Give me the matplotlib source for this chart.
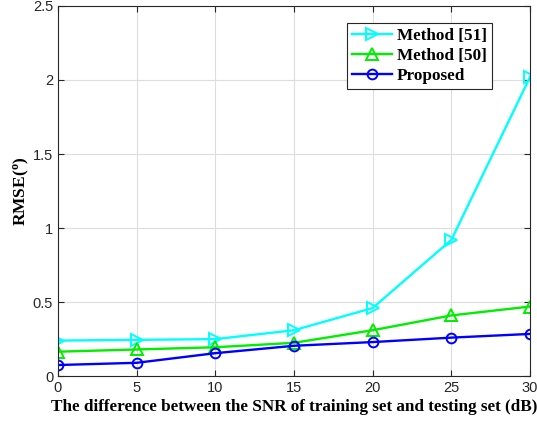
import matplotlib
matplotlib.use("Agg")
import matplotlib.pyplot as plt

# Données
snr_diff = [0, 5, 10, 15, 20, 25, 30]
rmse_m51 = [0.24, 0.245, 0.25, 0.31, 0.46, 0.92, 2.02]
rmse_m50 = [0.165, 0.18, 0.195, 0.225, 0.31, 0.41, 0.47]
rmse_prop = [0.075, 0.09, 0.155, 0.205, 0.23, 0.26, 0.285]

plt.rcParams['mathtext.fontset'] = 'custom'
plt.rcParams['mathtext.rm'] = 'Liberation Serif'
plt.rcParams['mathtext.bf'] = 'Liberation Serif:bold'

fig = plt.figure(figsize=(5.37, 4.25), dpi=100)
ax = fig.add_axes([0.108, 0.115, 0.879, 0.871])

ax.plot(snr_diff, rmse_m51, color="cyan", marker=">", markersize=8, mfc="none",
        mew=1.4, lw=1.7, label="Method [51]")
ax.plot(snr_diff, rmse_m50, color="#00ee00", marker="^", markersize=8, mfc="none",
        mew=1.4, lw=1.7, label="Method [50]")
ax.plot(snr_diff, rmse_prop, color="blue", marker="o", markersize=7, mfc="none",
        mew=1.4, lw=1.7, label="Proposed")

ax.set_xlim(0, 30)
ax.set_ylim(0, 2.5)
ax.set_xticks(snr_diff)
ax.set_yticks([0, 0.5, 1, 1.5, 2, 2.5])
ax.set_yticklabels(["0", "0.5", "1", "1.5", "2", "2.5"])
ax.grid(True, color="#dddddd", lw=0.8)
ax.set_axisbelow(True)
ax.tick_params(direction="in", length=4, top=True, right=True, labelsize=10.5,
               colors="#262626")
for lab in ax.get_xticklabels() + ax.get_yticklabels():
    lab.set_family("Liberation Sans")
for s in ax.spines.values():
    s.set_color("#262626")
    s.set_linewidth(0.8)

ax.set_xlabel("The difference between the SNR of training set and testing set (dB)",
              family="Liberation Serif", fontweight="bold", fontsize=12.3, labelpad=3)
ax.set_ylabel(r"RMSE($\mathbf{^{o}}$)", family="Liberation Serif",
              fontweight="bold", fontsize=12.5, labelpad=1)

leg = ax.legend(loc="upper right", bbox_to_anchor=(0.919, 0.954),
                prop={"family": "Liberation Serif", "weight": "bold", "size": 12.3},
                fancybox=False, framealpha=1, edgecolor="#262626",
                borderpad=0.3, labelspacing=0.22, handlelength=2.3,
                handletextpad=0.3, borderaxespad=0)
leg.get_frame().set_linewidth(0.8)

fig.savefig("out.png", dpi=100)
